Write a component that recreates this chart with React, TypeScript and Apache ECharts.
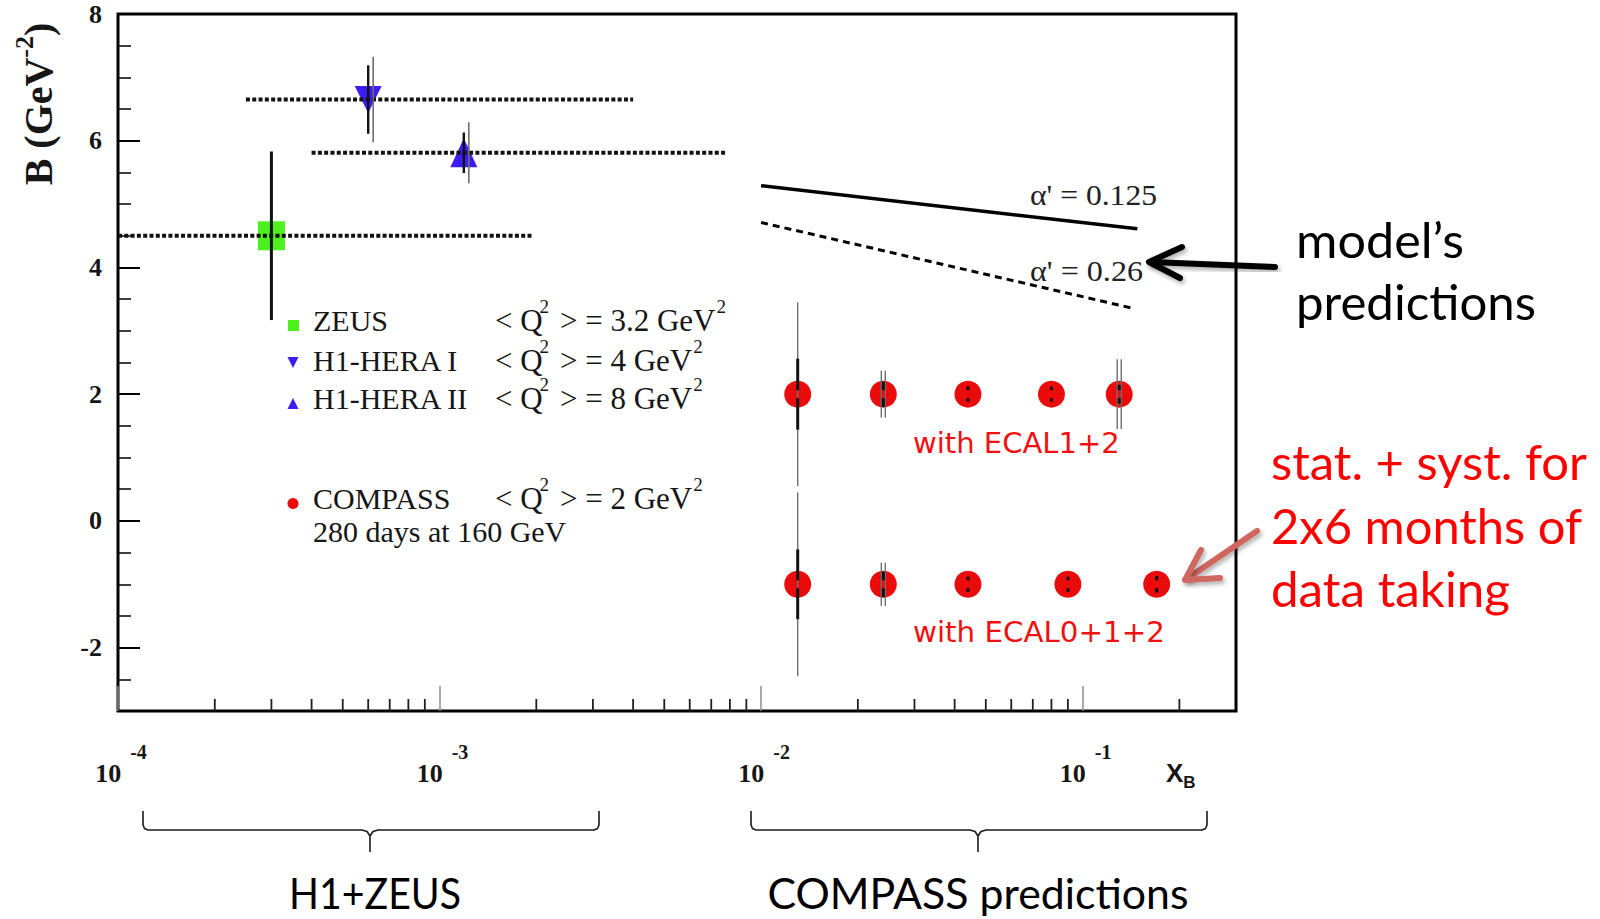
import React, { useEffect, useRef } from 'react';
import * as echarts from 'echarts';

const SERIF = '"Liberation Serif", "Times New Roman", serif';
const SANS = '"DejaVu Sans", sans-serif';
const HUMANIST = 'Lato, "Open Sans", sans-serif';
const INK = '#161616';
const RED = '#ea0c0c';
const GREEN = '#4ef01e';
const BLUE = '#3b1cf2';

// Axis ranges (x_B on a log scale, B in GeV^-2)
const xRange = [1e-4, 0.3];
const yRange = [-3, 8];
const logDecades = [1e-4, 1e-3, 1e-2, 1e-1];
const logSubdivisions = [2, 3, 4, 5, 6, 7, 8, 9];

// HERA measurements of the t-slope B
const heraNames = ['ZEUS', 'H1-HERA I', 'H1-HERA II'];
const heraQ2 = ['3.2', '4', '8'];
const heraX = [3.0e-4, 6.0e-4, 1.19e-3];
const heraB = [4.5, 6.65, 5.81];
const heraStat = [1.33, 0.54, 0.32];
const heraTotal = [1.33, 0.675, 0.48];
const heraXLow = [1.0e-4, 2.5e-4, 4.0e-4];
const heraXHigh = [1.95e-3, 4.0e-3, 7.8e-3];

// COMPASS projections, ECAL1+2 configuration
const ecal12X = [0.013, 0.024, 0.044, 0.08, 0.13];
const ecal12B = [2, 2, 2, 2, 2];
const ecal12Stat = [0.56, 0.2, 0.12, 0.12, 0.15];
const ecal12Total = [1.45, 0.37, 0.12, 0.12, 0.55];

// COMPASS projections, ECAL0+1+2 configuration
const ecal012X = [0.013, 0.024, 0.044, 0.09, 0.17];
const ecal012B = [-1, -1, -1, -1, -1];
const ecal012Stat = [0.55, 0.2, 0.12, 0.12, 0.13];
const ecal012Total = [1.45, 0.34, 0.12, 0.12, 0.13];

// Model predictions for two values of alpha'
const alpha125X = [0.01, 0.148];
const alpha125B = [5.29, 4.61];
const alpha26X = [0.01, 0.145];
const alpha26B = [4.71, 3.35];

const heraSymbols = ['rect', 'triangle', 'triangle'];
const heraRotate = [0, 180, 0];
const heraColors = [GREEN, BLUE, BLUE];
const heraSizes = [[27, 29], [27, 27], [27, 29]];

let measureCtx: CanvasRenderingContext2D | null = null;
function textWidth(text: string, font: string): number {
  if (!measureCtx) measureCtx = document.createElement('canvas').getContext('2d');
  if (!measureCtx) return text.length * 10;
  measureCtx.font = font;
  return measureCtx.measureText(text).width;
}

function fitScale(text: string, font: string, width: number): number {
  const w = textWidth(text, font);
  return w > 0 ? width / w : 1;
}

function fittedText(
  text: string,
  x: number,
  y: number,
  width: number,
  family: string,
  size: number,
  fill: string,
  align: 'left' | 'center' = 'left',
  weight: string = 'normal',
) {
  const font = `${weight} ${size}px ${family}`;
  return {
    type: 'text',
    x,
    y,
    scaleX: fitScale(text, font, width),
    z: 20,
    silent: true,
    style: { text, fontFamily: family, fontSize: size, fontWeight: weight, fill, align, verticalAlign: 'middle' },
  };
}

function plainText(text: string, x: number, y: number, family: string, size: number, fill: string) {
  return {
    type: 'text',
    x,
    y,
    z: 20,
    silent: true,
    style: { text, fontFamily: family, fontSize: size, fill, align: 'left', verticalAlign: 'middle' },
  };
}

// "< Q^2 > = v GeV^2" written as pieces with raised exponents
function q2Pieces(value: string, y: number) {
  const size = 31;
  const supSize = 19;
  const font = `normal ${size}px ${SERIF}`;
  const left = '< Q';
  const right = `> = ${value} GeV`;
  const x0 = 495;
  const x1 = 560;
  const sup1 = x0 + textWidth(left, font) - 3;
  const sup2 = x1 + textWidth(right, font) + 1;
  return [
    plainText(left, x0, y, SERIF, size, INK),
    plainText('2', sup1, y - 14, SERIF, supSize, INK),
    plainText(right, x1, y, SERIF, size, INK),
    plainText('2', sup2, y - 14, SERIF, supSize, INK),
  ];
}

function buildOption() {
  const minorTicks = logDecades
    .flatMap((d) => logSubdivisions.map((m) => m * d))
    .filter((v) => v < xRange[1]);

  const heraMarkers = heraX.map((x, i) => ({
    value: [x, heraB[i]],
    symbol: heraSymbols[i],
    symbolRotate: heraRotate[i],
    symbolSize: heraSizes[i],
    itemStyle: { color: heraColors[i], opacity: 1 },
  }));

  const heraRanges = heraX.map((_, i) => [heraXLow[i], heraB[i], heraXHigh[i]]);
  const heraErrors = heraX.map((x, i) => [x, heraB[i], heraStat[i], heraTotal[i]]);

  const ecal12 = ecal12X.map((x, i) => [x, ecal12B[i], ecal12Stat[i], ecal12Total[i]]);
  const ecal012 = ecal012X.map((x, i) => [x, ecal012B[i], ecal012Stat[i], ecal012Total[i]]);

  const compassErrorItem = (params: any, api: any) => {
    const x = api.value(0);
    const b = api.value(1);
    const stat = api.value(2);
    const total = api.value(3);
    const c = api.coord([x, b]);
    const st = Math.abs(api.coord([x, b + stat])[1] - c[1]);
    const tt = Math.abs(api.coord([x, b + total])[1] - c[1]);
    const children: any[] = [];
    if (total > stat) {
      const offsets = total > 1 ? [0] : [-2, 2];
      offsets.forEach((o) =>
        children.push({
          type: 'line',
          shape: { x1: c[0] + o, y1: c[1] - tt, x2: c[0] + o, y2: c[1] + tt },
          style: { stroke: '#6e6e6e', lineWidth: 1.4 },
        }),
      );
    }
    const gap = 4;
    if (st > gap) {
      children.push({
        type: 'line',
        shape: { x1: c[0], y1: c[1] - st, x2: c[0], y2: c[1] - gap },
        style: { stroke: '#111', lineWidth: 3 },
      });
      children.push({
        type: 'line',
        shape: { x1: c[0], y1: c[1] + gap, x2: c[0], y2: c[1] + st },
        style: { stroke: '#111', lineWidth: 3 },
      });
    }
    return { type: 'group', children };
  };

  const yTitle = {
    type: 'text',
    x: 34.5,
    y: 104,
    rotation: Math.PI / 2,
    z: 20,
    silent: true,
    style: {
      text: '{n|B (GeV}{s|-2}{n|)}',
      rich: {
        n: { fontFamily: SERIF, fontWeight: 'bold', fontSize: 40, height: 40, lineHeight: 47, verticalAlign: 'bottom', fill: INK },
        s: { fontFamily: SERIF, fontWeight: 'bold', fontSize: 26, height: 26, verticalAlign: 'top', fill: INK },
      },
      align: 'center',
      verticalAlign: 'middle',
    },
  };

  const xTitle = {
    type: 'text',
    x: 1166,
    y: 775.5,
    z: 20,
    silent: true,
    style: {
      text: '{n|X}{s|B}',
      rich: {
        n: { fontFamily: '"Liberation Sans", Arial, sans-serif', fontWeight: 'bold', fontSize: 26, height: 26, lineHeight: 31, verticalAlign: 'top', fill: INK },
        s: { fontFamily: '"Liberation Sans", Arial, sans-serif', fontWeight: 'bold', fontSize: 17, height: 17, verticalAlign: 'bottom', fill: INK },
      },
      align: 'left',
      verticalAlign: 'middle',
    },
  };

  const arrowStyle = (stroke: string) => ({
    stroke,
    lineWidth: 6,
    lineCap: 'round',
    lineJoin: 'round',
    fill: null,
    shadowBlur: 4,
    shadowOffsetX: 2,
    shadowOffsetY: 3,
    shadowColor: 'rgba(0,0,0,0.3)',
  });

  const braceStyle = { stroke: '#1a1a1a', lineWidth: 1.6, fill: null, lineJoin: 'round' };
  const brace = (left: number, right: number, mid: number) => [
    {
      type: 'polyline',
      silent: true,
      shape: {
        points: [
          [left, 811], [left, 825], [left + 1.5, 828.5], [left + 5, 830],
          [mid - 8, 830], [mid - 3, 831.5], [mid, 836], [mid, 852],
        ],
      },
      style: braceStyle,
    },
    {
      type: 'polyline',
      silent: true,
      shape: {
        points: [
          [mid, 836], [mid + 3, 831.5], [mid + 8, 830],
          [right - 5, 830], [right - 1.5, 828.5], [right, 825], [right, 811],
        ],
      },
      style: braceStyle,
    },
  ];

  const graphic: any[] = [
    yTitle,
    xTitle,
    // legend markers
    { type: 'rect', silent: true, z: 20, shape: { x: 288, y: 320, width: 11, height: 11 }, style: { fill: GREEN } },
    { type: 'polygon', silent: true, z: 20, shape: { points: [[287.5, 357], [298.5, 357], [293, 368]] }, style: { fill: BLUE } },
    { type: 'polygon', silent: true, z: 20, shape: { points: [[293, 398], [298.5, 409], [287.5, 409]] }, style: { fill: BLUE } },
    { type: 'circle', silent: true, z: 20, shape: { cx: 293, cy: 503.5, r: 5.5 }, style: { fill: RED } },
    // legend texts
    plainText(heraNames[0], 313, 320, SERIF, 30, INK),
    plainText(heraNames[1], 313, 360, SERIF, 30, INK),
    plainText(heraNames[2], 313, 398, SERIF, 30, INK),
    plainText('COMPASS', 313, 498, SERIF, 30, INK),
    plainText('280 days at 160 GeV', 313, 531, SERIF, 30, INK),
    ...q2Pieces(heraQ2[0], 320),
    ...q2Pieces(heraQ2[1], 360),
    ...q2Pieces(heraQ2[2], 398),
    ...q2Pieces('2', 498),
    // model labels
    fittedText("\u03b1' = 0.125", 1030, 195, 127, SERIF, 30, '#222'),
    fittedText("\u03b1' = 0.26", 1030, 271, 113, SERIF, 30, '#222'),
    // configuration labels
    fittedText('with ECAL1+2', 913, 444, 207, SANS, 28, '#f01010'),
    fittedText('with ECAL0+1+2', 913, 632, 252, SANS, 28, '#f01010'),
    // side notes
    fittedText('model\u2019s', 1296, 239.4, 168, HUMANIST, 48, '#000'),
    fittedText('predictions', 1296, 301.4, 240, HUMANIST, 48, '#000'),
    fittedText('stat. + syst. for', 1271, 461.4, 316, HUMANIST, 48, '#ff0000'),
    fittedText('2x6 months of', 1271, 525.4, 311, HUMANIST, 48, '#ff0000'),
    fittedText('data taking', 1271, 588.4, 239, HUMANIST, 48, '#ff0000'),
    fittedText('H1+ZEUS', 375, 893, 172, HUMANIST, 42, '#000', 'center'),
    fittedText('COMPASS predictions', 978, 893, 421, HUMANIST, 42, '#000', 'center'),
    // arrows
    { type: 'polyline', silent: true, z: 19, shape: { points: [[1151, 262], [1275, 267]] }, style: arrowStyle('#000') },
    { type: 'polyline', silent: true, z: 19, shape: { points: [[1182, 247], [1149, 262], [1180, 278]] }, style: arrowStyle('#000') },
    { type: 'polyline', silent: true, z: 19, shape: { points: [[1257, 531], [1188, 578]] }, style: arrowStyle('#cf6661') },
    { type: 'polyline', silent: true, z: 19, shape: { points: [[1201, 550], [1185, 580], [1220, 578]] }, style: arrowStyle('#cf6661') },
    // braces under the axis
    ...brace(143, 599, 370),
    ...brace(751, 1207, 978),
  ];

  return {
    animation: false,
    backgroundColor: '#fff',
    grid: {
      left: 118,
      right: 364,
      top: 14,
      bottom: 208,
      show: true,
      borderColor: '#000',
      borderWidth: 3,
      backgroundColor: 'transparent',
      outerBoundsMode: 'none',
    },
    xAxis: {
      type: 'log',
      logBase: 10,
      min: xRange[0],
      max: xRange[1],
      axisLine: { show: false, onZero: false },
      axisTick: { show: true, inside: true, length: 25, lineStyle: { color: '#8c8c8c', width: 1.5 } },
      minorTick: { show: false },
      splitLine: { show: false },
      axisLabel: {
        showMaxLabel: false,
        margin: 31,
        formatter: (v: number) => `{b|10}{e|${Math.round(Math.log10(v))}}`,
        rich: {
          b: { fontFamily: SERIF, fontWeight: 'bold', fontSize: 26, height: 26, verticalAlign: 'bottom', color: INK, padding: [0, 0, 0, 6] },
          e: { fontFamily: SERIF, fontWeight: 'bold', fontSize: 20, height: 20, lineHeight: 44, verticalAlign: 'top', color: INK, padding: [0, 0, 0, 9] },
        },
      },
    },
    yAxis: {
      type: 'value',
      min: yRange[0],
      max: yRange[1],
      splitNumber: 5,
      axisLine: { show: false, onZero: false },
      axisTick: { show: true, inside: true, length: 22, lineStyle: { color: '#000', width: 2 } },
      minorTick: { show: true, splitNumber: 4, length: 13, lineStyle: { color: '#000', width: 1.5 } },
      splitLine: { show: false },
      minorSplitLine: { show: false },
      axisLabel: {
        showMinLabel: false,
        margin: 16,
        fontFamily: SERIF,
        fontWeight: 'bold',
        fontSize: 26,
        color: INK,
      },
    },
    series: [
      {
        name: 'log minor ticks',
        type: 'custom',
        silent: true,
        z: 10,
        data: minorTicks.map((v) => [v, yRange[0]]),
        renderItem: (params: any, api: any) => {
          const p = api.coord([api.value(0), yRange[0]]);
          return {
            type: 'line',
            shape: { x1: p[0], y1: p[1], x2: p[0], y2: p[1] - 12 },
            style: { stroke: '#1e1e1e', lineWidth: 1.8 },
          };
        },
      },
      {
        name: "alpha' = 0.125",
        type: 'line',
        silent: true,
        z: 3,
        symbol: 'none',
        data: alpha125X.map((x, i) => [x, alpha125B[i]]),
        lineStyle: { color: '#000', width: 3.5 },
      },
      {
        name: "alpha' = 0.26",
        type: 'line',
        silent: true,
        z: 3,
        symbol: 'none',
        data: alpha26X.map((x, i) => [x, alpha26B[i]]),
        lineStyle: { color: '#000', width: 3, type: [7, 5] },
      },
      {
        name: 'HERA',
        type: 'scatter',
        silent: true,
        z: 2,
        data: heraMarkers,
      },
      {
        name: 'HERA x ranges',
        type: 'custom',
        silent: true,
        z: 4,
        data: heraRanges,
        renderItem: (params: any, api: any) => {
          const p1 = api.coord([api.value(0), api.value(1)]);
          const p2 = api.coord([api.value(2), api.value(1)]);
          return {
            type: 'line',
            shape: { x1: p1[0], y1: p1[1], x2: p2[0], y2: p2[1] },
            style: { stroke: '#111', lineWidth: 4, lineDash: [4, 2.3] },
          };
        },
      },
      {
        name: 'HERA errors',
        type: 'custom',
        silent: true,
        z: 5,
        data: heraErrors,
        renderItem: (params: any, api: any) => {
          const x = api.value(0);
          const b = api.value(1);
          const stat = api.value(2);
          const total = api.value(3);
          const c = api.coord([x, b]);
          const s1 = api.coord([x, b + stat])[1];
          const s2 = api.coord([x, b - stat])[1];
          const children: any[] = [];
          if (total > stat) {
            const t1 = api.coord([x, b + total])[1];
            const t2 = api.coord([x, b - total])[1];
            children.push({
              type: 'line',
              shape: { x1: c[0] + 5, y1: t1, x2: c[0] + 5, y2: t2 },
              style: { stroke: '#6e6e6e', lineWidth: 1.6 },
            });
          }
          children.push({
            type: 'line',
            shape: { x1: c[0], y1: s1, x2: c[0], y2: s2 },
            style: { stroke: '#111', lineWidth: total > stat ? 2.4 : 3 },
          });
          return { type: 'group', children };
        },
      },
      {
        name: 'COMPASS ECAL1+2',
        type: 'scatter',
        silent: true,
        z: 2,
        symbol: 'circle',
        symbolSize: 27,
        itemStyle: { color: RED, opacity: 1 },
        data: ecal12.map((d) => [d[0], d[1]]),
      },
      {
        name: 'COMPASS ECAL0+1+2',
        type: 'scatter',
        silent: true,
        z: 2,
        symbol: 'circle',
        symbolSize: 27,
        itemStyle: { color: RED, opacity: 1 },
        data: ecal012.map((d) => [d[0], d[1]]),
      },
      {
        name: 'COMPASS ECAL1+2 errors',
        type: 'custom',
        silent: true,
        z: 5,
        data: ecal12,
        renderItem: compassErrorItem,
      },
      {
        name: 'COMPASS ECAL0+1+2 errors',
        type: 'custom',
        silent: true,
        z: 5,
        data: ecal012,
        renderItem: compassErrorItem,
      },
    ],
    graphic,
  };
}

export default function App() {
  const ref = useRef<HTMLDivElement>(null);
  useEffect(() => {
    if (!ref.current) return;
    const chart = echarts.init(ref.current, undefined, { renderer: 'svg' });
    chart.setOption(buildOption() as any);
    return () => chart.dispose();
  }, []);
  return (
    <div
      ref={ref}
      style={{ position: 'fixed', left: 0, top: 0, width: 1600, height: 919, background: '#fff' }}
    />
  );
}
